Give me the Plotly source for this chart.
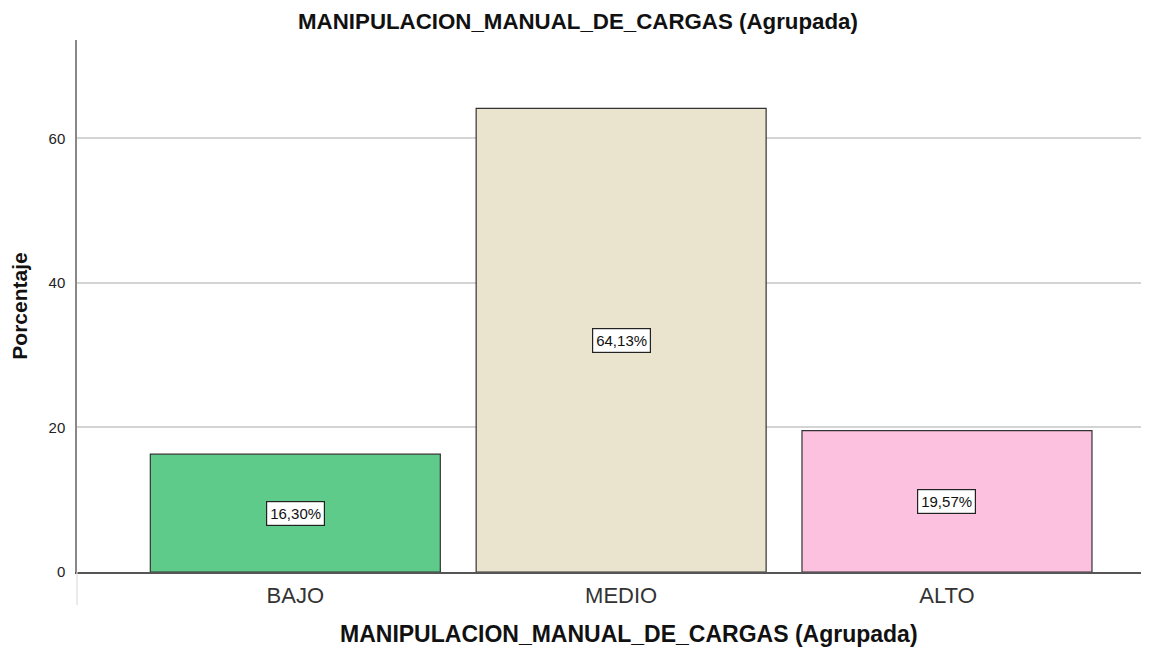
import plotly.graph_objects as go

categories = ["BAJO", "MEDIO", "ALTO"]
values = [16.30, 64.13, 19.57]
labels = ["16,30%", "64,13%", "19,57%"]
colors = ["#5ECB8B", "#EAE4CE", "#FDC1E0"]
y_ticks = [0, 20, 40, 60]

FONT = "Liberation Sans, Arial"

fig = go.Figure()
fig.add_trace(go.Bar(
    x=categories, y=values,
    marker=dict(color=colors, line=dict(color="#333333", width=1.2)),
    width=0.89, hoverinfo="skip"
))

for c, v, t in zip(categories, values, labels):
    fig.add_annotation(x=c, y=v / 2, text=t, showarrow=False,
                       font=dict(family=FONT, size=15, color="#111111"),
                       bgcolor="white", bordercolor="#222222", borderwidth=1.2, borderpad=3)

fig.add_annotation(xref="paper", yref="paper", x=0.515, y=-0.116, yanchor="middle",
                   text="<b>MANIPULACION_MANUAL_DE_CARGAS (Agrupada)</b>", showarrow=False,
                   font=dict(family=FONT, size=23, color="#111111"))

# light extension of the y axis below zero
fig.add_shape(type="line", xref="paper", yref="paper", x0=0, x1=0, y0=0, y1=-0.062,
              line=dict(color="#dddddd", width=1.2))

# page has an 8px body margin, so figure is sized/offset to compensate
fig.update_layout(
    width=1149, height=640,
    margin=dict(l=69, r=8, t=32, b=76),
    plot_bgcolor="white", paper_bgcolor="white",
    showlegend=False,
    title=dict(text="<b>MANIPULACION_MANUAL_DE_CARGAS (Agrupada)</b>",
               x=(578 - 8) / 1149, xref="container", xanchor="center",
               y=(640 - 13) / 640, yanchor="middle",
               font=dict(family=FONT, size=22.3, color="#111111")),
    xaxis=dict(type="category", range=[-0.67, 2.62], showgrid=False,
               showline=True, linecolor="#555555", linewidth=1.5,
               ticks="", tickfont=dict(family=FONT, size=22, color="#333333"),
               ticklabelstandoff=3),
    yaxis=dict(range=[0, 73.6], tickvals=y_ticks, showgrid=True, gridcolor="#d4d4d4",
               gridwidth=1.5, zeroline=False,
               showline=True, linecolor="#888888", linewidth=1.5,
               ticks="", tickfont=dict(family=FONT, size=15, color="#222222"),
               ticklabelstandoff=7,
               title=dict(text="<b>Porcentaje</b>", standoff=18,
                          font=dict(family=FONT, size=21, color="#111111"))),
)

fig.write_html("out.html")
